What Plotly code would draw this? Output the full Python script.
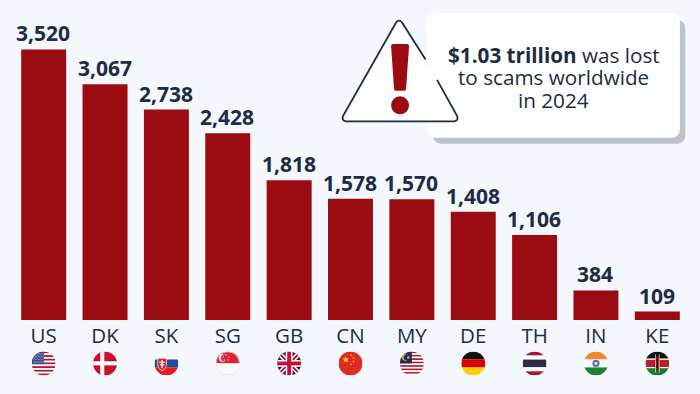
import base64
import math
import plotly.graph_objects as go

countries = ["US", "DK", "SK", "SG", "GB", "CN", "MY", "DE", "TH", "IN", "KE"]
values = [3520, 3067, 2738, 2428, 1818, 1578, 1570, 1408, 1106, 384, 109]
callout_bold = "$1.03 trillion"
callout_lines = [" was lost", "to scams worldwide", "in 2024"]

BG = "#f4f7fb"
BAR = "#9a0c11"
INK = "#1c2c44"
W, H = 700, 394
L, R, BOTTOM = 12.7, 688.1, 320.5
PX_PER_UNIT = 271 / 3520


def fx(px):
    return (px - L) / (R - L)


def fy(py):
    return (BOTTOM - py) / BOTTOM


def P(pts):
    return " ".join(f"{c}{fx(x):.5f},{fy(y):.5f}" for c, x, y in pts)


def rounded(x0, y0, x1, y1, r):
    def q(cx, cy, x, y):
        return f"Q{fx(cx):.5f},{fy(cy):.5f} {fx(x):.5f},{fy(y):.5f}"
    return (
        f"M{fx(x0+r):.5f},{fy(y0):.5f} L{fx(x1-r):.5f},{fy(y0):.5f} " + q(x1, y0, x1, y0 + r)
        + f" L{fx(x1):.5f},{fy(y1-r):.5f} " + q(x1, y1, x1 - r, y1)
        + f" L{fx(x0+r):.5f},{fy(y1):.5f} " + q(x0, y1, x0, y1 - r)
        + f" L{fx(x0):.5f},{fy(y0+r):.5f} " + q(x0, y0, x0 + r, y0) + " Z"
    )


def rect(x, y, w, h, c):
    return f'<rect x="{x}" y="{y}" width="{w}" height="{h}" fill="{c}"/>'


def stripes(colors, total=100):
    h = total / len(colors)
    return "".join(rect(0, i * h, 100, h + 0.3, c) for i, c in enumerate(colors))


def bands(spec):
    out, y = "", 0
    for c, h in spec:
        out += rect(0, y, 100, h + 0.3, c)
        y += h
    return out


def star(cx, cy, r, c="#ffd83a"):
    pts = []
    for k in range(10):
        rr = r if k % 2 == 0 else r * 0.4
        a = -math.pi / 2 + k * math.pi / 5
        pts.append(f"{cx + rr * math.cos(a):.1f},{cy + rr * math.sin(a):.1f}")
    return f'<polygon points="{" ".join(pts)}" fill="{c}"/>'


RED = "#b5182f"
WHITE = "#ffffff"

us_stars = "".join(
    f'<circle cx="{8 + 6.5 * i + (3 if j % 2 else 0)}" cy="{8 + 6.5 * j}" r="1.6" fill="#fff"/>'
    for i in range(7) for j in range(7))
flags = {
    "US": stripes([RED, WHITE] * 6 + [RED]) + rect(0, 0, 52, 53, "#3c4a86") + us_stars,
    "DK": rect(0, 0, 100, 100, "#c8102e") + rect(30, 0, 17, 100, WHITE) + rect(0, 41, 100, 17, WHITE),
    "SK": stripes([WHITE, "#1b4fa0", "#e11b22"])
          + '<path d="M14 28 h36 v26 q0 18 -18 26 q-18 -8 -18 -26 z" fill="#e11b22" stroke="#fff" stroke-width="3"/>'
          + rect(29, 36, 6, 34, WHITE) + rect(21, 43, 22, 5, WHITE) + rect(23, 53, 18, 5, WHITE),
    "SG": rect(0, 0, 100, 50, "#dc2436") + rect(0, 50, 100, 50, "#f9fbfd")
          + '<circle cx="30" cy="27" r="16" fill="#fff"/><circle cx="37" cy="27" r="15" fill="#dc2436"/>'
          + star(43, 15, 4, "#fff") + star(55, 23, 4, "#fff") + star(51, 36, 4, "#fff")
          + star(36, 36, 4, "#fff") + star(32, 23, 4, "#fff")
          + '<circle cx="50" cy="50" r="48.5" fill="none" stroke="#dfe2e8" stroke-width="3"/>',
    "GB": rect(0, 0, 100, 100, "#232a63")
          + '<path d="M0 0 L100 100 M100 0 L0 100" stroke="#fff" stroke-width="20"/>'
          + '<path d="M0 0 L100 100 M100 0 L0 100" stroke="#c8102e" stroke-width="8"/>'
          + rect(36, 0, 28, 100, WHITE) + rect(0, 36, 100, 28, WHITE)
          + rect(42, 0, 16, 100, "#c8102e") + rect(0, 42, 100, 16, "#c8102e"),
    "CN": rect(0, 0, 100, 100, "#e02b20") + star(30, 34, 15)
          + star(52, 15, 5) + star(62, 27, 5) + star(62, 42, 5) + star(52, 54, 5),
    "MY": stripes([RED, WHITE] * 7) + rect(0, 0, 50, 50, "#232a63")
          + '<circle cx="22" cy="25" r="13" fill="#f6c821"/><circle cx="27" cy="25" r="11" fill="#232a63"/>'
          + star(35, 25, 8, "#f6c821"),
    "DE": stripes(["#111111", "#dd0000", "#ffce00"]),
    "TH": bands([("#a51931", 17), (WHITE, 17), ("#2d2a4a", 32), (WHITE, 17), ("#a51931", 17)]),
    "IN": stripes(["#f08a30", WHITE, "#1f7f35"])
          + '<circle cx="50" cy="50" r="15" fill="#2f3f86" opacity="0.75"/><circle cx="50" cy="50" r="6" fill="#fff"/>',
    "KE": bands([("#111111", 30), (WHITE, 5), ("#bb1f26", 30), (WHITE, 5), ("#1c7a2e", 30)])
          + '<ellipse cx="50" cy="50" rx="11" ry="28" fill="#bb1f26" stroke="#111" stroke-width="2"/>'
          + rect(47, 30, 6, 40, "#111") + rect(41, 12, 2.5, 76, WHITE) + rect(56.5, 12, 2.5, 76, WHITE),
}


def flag_uri(code, idx):
    svg = (
        '<svg xmlns="http://www.w3.org/2000/svg" width="100" height="100" viewBox="0 0 100 100">'
        f'<defs><clipPath id="c{idx}"><circle cx="50" cy="50" r="50"/></clipPath></defs>'
        f'<g clip-path="url(#c{idx})">{flags[code]}</g></svg>'
    )
    return "data:image/svg+xml;base64," + base64.b64encode(svg.encode()).decode()


fig = go.Figure(go.Bar(x=countries, y=values, marker_color=BAR, marker_line_width=0))

images = [
    dict(source=flag_uri(c, i), xref="paper", yref="paper",
         x=(i + 0.5) / len(countries), y=fy(364), sizex=24 / (R - L), sizey=24 / BOTTOM,
         xanchor="center", yanchor="middle", layer="above", sizing="contain")
    for i, c in enumerate(countries)
]

shapes = [
    dict(type="path", xref="paper", yref="paper", path=rounded(433, 20, 685.5, 144, 9),
         fillcolor="#bcc3ce", line_width=0, layer="above"),
    dict(type="path", xref="paper", yref="paper", path=rounded(427, 13, 680, 138, 9),
         fillcolor="#ffffff", line_width=0, layer="above"),
    dict(type="path", xref="paper", yref="paper",
         path=P([("M", 399, 20), ("L", 343, 121), ("L", 458, 121)]) + " Z",
         fillcolor="#ffffff", line_width=0, layer="above"),
    dict(type="path", xref="paper", yref="paper",
         path=P([("M", 425.5, 59.5), ("L", 402, 22.5), ("Q", 399, 19), ("", 396, 22.5),
                 ("L", 343, 116), ("Q", 341, 121), ("", 346, 121.5),
                 ("L", 454, 121.5), ("Q", 459, 121), ("", 457, 116), ("L", 437, 80)]),
         fillcolor="rgba(0,0,0,0)", line=dict(color=INK, width=1.8), layer="above"),
    dict(type="path", xref="paper", yref="paper",
         path=P([("M", 393, 44), ("L", 407, 44), ("Q", 409, 44), ("", 409, 46),
                 ("L", 406, 89), ("Q", 406, 91), ("", 404, 91), ("L", 396, 91),
                 ("Q", 394, 91), ("", 394, 89), ("L", 391, 46), ("Q", 391, 44), ("", 393, 44)]) + " Z",
         fillcolor=BAR, line_width=0, layer="above"),
    dict(type="circle", xref="paper", yref="paper", x0=fx(391), x1=fx(409), y0=fy(114.5), y1=fy(96.5),
         fillcolor=BAR, line_width=0, layer="above"),
]

value_labels = [
    dict(xref="x", yref="y", x=c, y=v, xanchor="center", yanchor="bottom", yshift=0, xshift=-0.5,
         showarrow=False, font=dict(family="Open Sans", size=21, color=INK), text=f"<b>{v:,}</b>")
    for c, v in zip(countries, values)
]
line_texts = [f"<b>{callout_bold}</b>{callout_lines[0]}", callout_lines[1], callout_lines[2]]
callout = [
    dict(xref="paper", yref="paper", x=fx(553.7), y=fy(py), xanchor="center", yanchor="middle",
         showarrow=False, align="center", font=dict(family="Open Sans", size=20.7, color=INK), text=t)
    for t, py in zip(line_texts, [55, 77.5, 100])
]

fig.update_layout(
    width=W, height=H, autosize=False, paper_bgcolor=BG, plot_bgcolor=BG,
    margin=dict(l=L, r=W - R, t=0, b=H - BOTTOM, pad=0),
    bargap=0.267, showlegend=False, images=images, shapes=shapes, annotations=value_labels + callout,
    xaxis=dict(type="category", range=[-0.5, 10.5], showgrid=False, showline=False, zeroline=False,
               ticks="", tickfont=dict(family="Open Sans", size=20.5, color=INK), ticklabelstandoff=1),
    yaxis=dict(range=[0, BOTTOM / PX_PER_UNIT], visible=False, fixedrange=True),
)
fig.write_html("out.html", config={"displayModeBar": False},
               post_script="document.body.style.margin='0';document.body.style.background='" + BG + "';")
